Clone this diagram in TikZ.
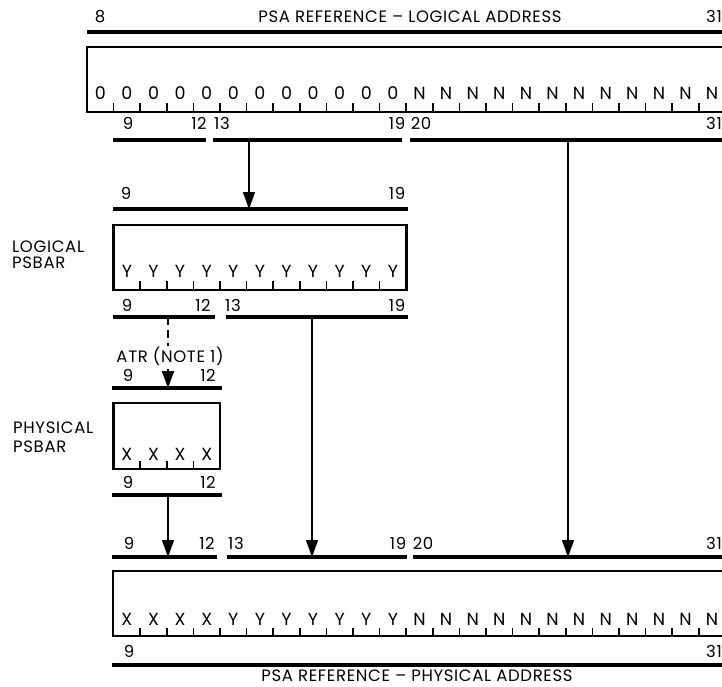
\documentclass[tikz,border=0pt]{standalone}
\usepackage{fontspec}
\setmainfont{Poppins}[LetterSpace=4]
\usetikzlibrary{arrows.meta}
\tikzset{
  regbox/.style={draw, line width=2.8pt, inner sep=0pt, outer sep=0pt, anchor=north west},
  field/.style={line width=3.2pt},
  tickmark/.style={line width=1.7pt},
  arr/.style={line width=1.6pt, -{Triangle[length=17pt,width=12pt]}},
  dasharr/.style={line width=1.6pt, dash pattern=on 8pt off 5pt, -{Triangle[length=17pt,width=12pt]}},
  lbl/.style={font=\fontsize{16.5}{16.5}\selectfont, inner sep=0pt, anchor=base},
  side/.style={font=\fontsize{16.5}{16.5}\selectfont, inner sep=0pt, anchor=base west},
  bit/.style={font=\fontsize{17.5}{17.5}\selectfont, inner sep=0pt, anchor=base},
}
\begin{document}
\begin{tikzpicture}[x=1pt,y=-1pt]
\useasboundingbox (0,0) rectangle (722,687);
\clip (0,0) rectangle (722,687);

% ---------- top: logical address ----------
\node[lbl] (t8) at (100,23) {8};
\node[lbl] (ttitle) at (410,22.5) {PSA REFERENCE -- LOGICAL ADDRESS};
\node[lbl] (t31) at (714,23) {31};
\coordinate (tla) at (87,32); \coordinate (tlb) at (730,32);
\draw[field] (tla) -- (tlb);

\node[regbox, minimum width=645pt, minimum height=65pt] (topreg) at (87,47) {};
\foreach \k in {8,...,19}{\pgfmathsetmacro\cx{87+(\k-8)*26.6+13.3}
  \node[bit] (tb\k) at (\cx,100) {0};}
\foreach \k in {20,...,31}{\pgfmathsetmacro\cx{87+(\k-8)*26.6+13.3}
  \node[bit] (tb\k) at (\cx,100) {N};}
\foreach \k in {9,...,31}{\pgfmathsetmacro\tx{87+(\k-8)*26.6}
  \draw[tickmark] (\tx,103.5) -- (\tx,112);}

\node[lbl] (u9) at (128,130) {9};
\node[lbl] (u12) at (199,130) {12};
\node[lbl] (u13) at (222,130) {13};
\node[lbl] (u19) at (397,130) {19};
\node[lbl] (u20) at (421,130) {20};
\node[lbl] (u31) at (714,130) {31};
\coordinate (ua1) at (113,140); \coordinate (ua2) at (206,140);
\coordinate (ub1) at (213,140); \coordinate (ub2) at (402,140);
\coordinate (uc1) at (410,140); \coordinate (uc2) at (730,140);
\draw[field] (ua1) -- (ua2);
\draw[field] (ub1) -- (ub2);
\draw[field] (uc1) -- (uc2);

% ---------- logical PSBAR ----------
\node[side] (lg1) at (12,252) {LOGICAL};
\node[side] (lg2) at (12,268) {PSBAR};
\node[lbl] (l9) at (126,200) {9};
\node[lbl] (l19) at (397,200) {19};
\coordinate (la1) at (113,209); \coordinate (la2) at (408,209);
\draw[field] (la1) -- (la2);
\node[regbox, minimum width=292.6pt, minimum height=65pt] (lreg) at (113.6,225) {};
\foreach \k in {9,...,19}{\pgfmathsetmacro\cx{87+(\k-8)*26.6+13.3}
  \node[bit] (lb\k) at (\cx,277) {Y};}
\foreach \k in {10,...,19}{\pgfmathsetmacro\tx{87+(\k-8)*26.6}
  \draw[tickmark] (\tx,281) -- (\tx,290);}
\node[lbl] (m9) at (127,311) {9};
\node[lbl] (m12) at (203,311) {12};
\node[lbl] (m13) at (233,311) {13};
\node[lbl] (m19) at (397,311) {19};
\coordinate (ma1) at (113,317); \coordinate (ma2) at (215,317);
\coordinate (mb1) at (226,317); \coordinate (mb2) at (408,317);
\draw[field] (ma1) -- (ma2);
\draw[field] (mb1) -- (mb2);

% ---------- physical PSBAR ----------
\node[side] (ph1) at (13,433) {PHYSICAL};
\node[side] (ph2) at (13,452) {PSBAR};
\node[lbl] (p9) at (128,381.5) {9};
\node[lbl] (p12) at (208,381.5) {12};
\coordinate (pa1) at (112,388); \coordinate (pa2) at (222,388);
\draw[field] (pa1) -- (pa2);
\node[regbox, minimum width=106.4pt, minimum height=66pt] (preg) at (113.6,403) {};
\foreach \k in {9,...,12}{\pgfmathsetmacro\cx{87+(\k-8)*26.6+13.3}
  \node[bit] (pb\k) at (\cx,460) {X};}
\foreach \k in {10,...,12}{\pgfmathsetmacro\tx{87+(\k-8)*26.6}
  \draw[tickmark] (\tx,461) -- (\tx,469);}
\node[lbl] (q9) at (128,488) {9};
\node[lbl] (q12) at (208,488) {12};
\coordinate (qa1) at (112,495); \coordinate (qa2) at (222,495);
\draw[field] (qa1) -- (qa2);

% ---------- bottom: physical address ----------
\node[lbl] (b9) at (129,549) {9};
\node[lbl] (b12) at (207,549) {12};
\node[lbl] (b13) at (236,549) {13};
\node[lbl] (b19) at (398,549) {19};
\node[lbl] (b20) at (423,549) {20};
\node[lbl] (b31) at (714,549) {31};
\coordinate (ba1) at (112,557); \coordinate (ba2) at (217,557);
\coordinate (bb1) at (227,557); \coordinate (bb2) at (407,557);
\coordinate (bc1) at (413,557); \coordinate (bc2) at (730,557);
\draw[field] (ba1) -- (ba2);
\draw[field] (bb1) -- (bb2);
\draw[field] (bc1) -- (bc2);

\node[regbox, minimum width=620pt, minimum height=65pt] (breg) at (113,571) {};
\foreach \k in {9,...,12}{\pgfmathsetmacro\cx{87+(\k-8)*26.6+13.3}
  \node[bit] (bb\k) at (\cx,625) {X};}
\foreach \k in {13,...,19}{\pgfmathsetmacro\cx{87+(\k-8)*26.6+13.3}
  \node[bit] (bb\k) at (\cx,625) {Y};}
\foreach \k in {20,...,31}{\pgfmathsetmacro\cx{87+(\k-8)*26.6+13.3}
  \node[bit] (bb\k) at (\cx,625) {N};}
\foreach \k in {10,...,31}{\pgfmathsetmacro\tx{87+(\k-8)*26.6}
  \draw[tickmark] (\tx,628) -- (\tx,636);}
\node[lbl] (c9) at (129,657) {9};
\node[lbl] (c31) at (714,657) {31};
\coordinate (ca1) at (112,665); \coordinate (ca2) at (730,665);
\draw[field] (ca1) -- (ca2);
\node[lbl] (btitle) at (417,681.5) {PSA REFERENCE -- PHYSICAL ADDRESS};

% ---------- connectors ----------
\coordinate (s1) at (249,140); \coordinate (e1) at (249,209);
\draw[arr] (s1) -- (e1);
\coordinate (s2) at (568,140); \coordinate (e2) at (568,557);
\draw[arr] (s2) -- (e2);
\coordinate (s3) at (168,317); \coordinate (e3) at (168,388);
\draw[dasharr] (s3) -- (e3);
\node[lbl, fill=white, inner sep=1pt] (atr) at (170,362.5) {ATR (NOTE 1)};
\coordinate (s4) at (312,317); \coordinate (e4) at (312,557);
\draw[arr] (s4) -- (e4);
\coordinate (s5) at (168,495); \coordinate (e5) at (168,557);
\draw[arr] (s5) -- (e5);
\end{tikzpicture}
\end{document}
